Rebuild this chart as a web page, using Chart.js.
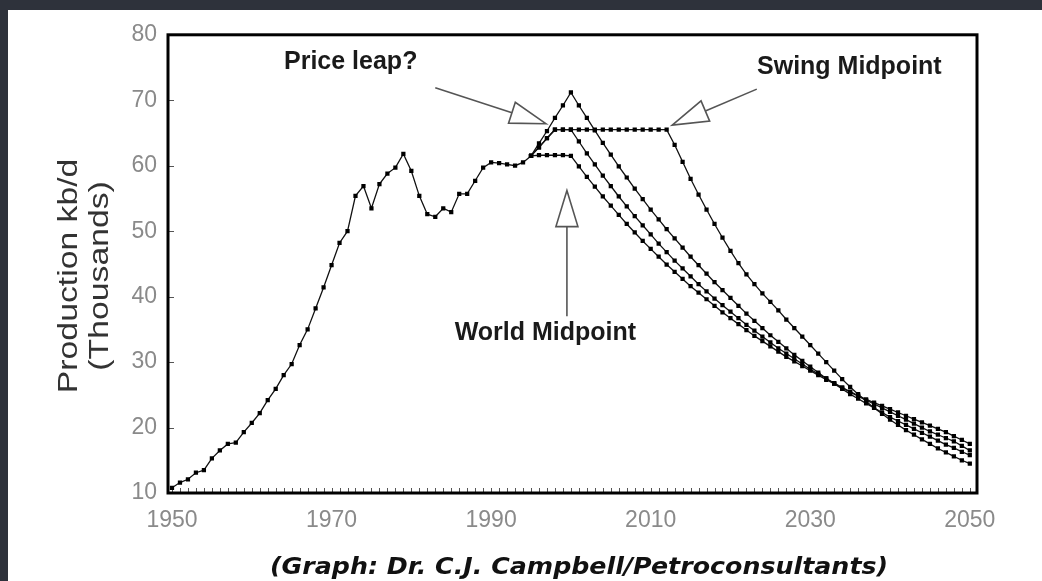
<!DOCTYPE html>
<html><head><meta charset="utf-8">
<script src="https://cdn.jsdelivr.net/npm/chart.js@4/dist/chart.umd.min.js"></script>
<style>
html,body{margin:0;padding:0;width:1042px;height:581px;overflow:hidden;background:#2e323b;}
#panel{position:absolute;left:8px;top:10px;width:1034px;height:571px;background:#fff;}
#c{position:absolute;left:0;top:0;}
#caption{position:absolute;left:571px;top:543px;transform:translateX(-50%) scaleX(1.1);white-space:nowrap;font:bold italic 23px "DejaVu Sans";color:#111;}
</style></head>
<body>
<div id="panel"><canvas id="c" width="1034" height="571"></canvas><div id="caption">(Graph: Dr. C.J. Campbell/Petroconsultants)</div></div>
<script>
const historyStart = 1950;
const history = [10.8,11.6,12.1,13.1,13.5,15.3,16.5,17.5,17.7,19.3,20.7,22.2,24.2,25.9,28.0,29.7,32.6,35.0,38.2,41.4,44.8,48.2,50.0,55.4,56.9,53.5,57.2,58.8,59.7,61.8,59.2,55.4,52.6,52.2,53.5,52.9,55.7,55.7,57.7,59.7,60.5,60.4,60.2,60.0,60.5,61.5];
const scenarioStart = 1995;
const worldMidpoint = [61.5,61.6,61.6,61.6,61.6,
 61.5,59.9,58.3,56.8,55.3,53.9,52.5,51.1,49.8,48.5,47.3,46.1,44.9,43.8,42.7,41.6,40.6,39.6,38.6,37.6,36.7,35.8,34.9,34.0,33.2,32.4,31.6,30.8,30.1,29.4,28.7,28.0,27.3,26.7,26.1,25.5,24.9,24.3,23.8,23.3,22.8,22.3,21.8,21.3,20.8,20.3,19.8,19.3,18.7,18.1,17.5];
const earlyPlateau = [61.5,62.8,64.2,65.5,65.5,
 65.5,63.7,61.9,60.2,58.5,56.9,55.3,53.8,52.3,50.9,49.5,48.1,46.8,45.5,44.3,43.1,41.9,40.8,39.7,38.7,37.7,36.7,35.7,34.8,33.9,33.0,32.1,31.3,30.5,29.7,28.9,28.2,27.5,26.8,26.1,25.4,24.8,24.2,23.6,23.0,22.4,21.8,21.2,20.6,20.0,19.4,18.9,18.4,17.9,17.2,16.5];
const priceLeap = [61.5,63.4,65.3,67.3,69.2,
 71.2,69.2,67.3,65.4,63.5,61.7,59.9,58.2,56.5,54.9,53.3,51.8,50.3,48.9,47.5,46.1,44.8,43.5,42.2,41.0,39.8,38.6,37.4,36.3,35.2,34.1,33.1,32.1,31.1,30.2,29.3,28.4,27.5,26.7,25.9,25.1,24.4,23.7,23.0,22.3,21.6,21.0,20.4,19.8,19.2,18.6,18.0,17.4,16.9,16.3,15.8];
const swingMidpoint = [61.5,62.8,64.2,
 65.5,65.5,65.5,65.5,65.5,65.5,65.5,65.5,65.5,65.5,65.5,65.5,65.5,65.5,65.5,
 63.2,60.6,58.0,55.6,53.3,51.1,49.0,47.0,45.1,43.4,41.9,40.5,39.2,37.9,36.5,35.2,33.9,32.6,31.3,30.0,28.7,27.4,26.2,25.1,24.0,23.0,22.1,21.2,20.4,19.6,18.9,18.2,17.5,16.8,16.2,15.6,15.0,14.5];
const xTickLabels = [1950,1970,1990,2010,2030,2050];
const yTickLabels = [10,20,30,40,50,60,70,80];
const annotations = [
  {text:'Price leap?', x:1972.4, y:75.9, from:[1983.0,71.9], tip:[1996.9,66.4]},
  {text:'Swing Midpoint', x:2034.9, y:75.0, from:[2023.3,71.7], tip:[2012.7,66.2]},
  {text:'World Midpoint', x:1996.8, y:34.5, from:[1999.5,37.0], tip:[1999.5,56.2]}
];

const toXY = (start, arr) => arr.map((v,i)=>({x:start+i, y:v}));
const lineStyle = {borderColor:'#111', borderWidth:1.3, pointStyle:'rect', pointRadius:3, pointBackgroundColor:'#000', pointBorderWidth:0, fill:false, tension:0};

const framePlugin = {
  id:'frame',
  beforeDatasetsDraw(chart){
    const {ctx, chartArea:a, scales:{x,y}} = chart;
    ctx.save();
    ctx.strokeStyle = '#555'; ctx.lineWidth = 1;
    for(let yr=1950; yr<=2050; yr++){ const px = Math.round(x.getPixelForValue(yr))+0.5; ctx.beginPath(); ctx.moveTo(px,a.bottom); ctx.lineTo(px,a.bottom-5); ctx.stroke(); }
    for(const v of yTickLabels){ const py = Math.round(y.getPixelForValue(v))+0.5; ctx.beginPath(); ctx.moveTo(a.left,py); ctx.lineTo(a.left+6,py); ctx.stroke(); }
    ctx.strokeStyle = '#000'; ctx.lineWidth = 3;
    ctx.strokeRect(a.left, a.top, a.right-a.left, a.bottom-a.top);
    // y title
    ctx.fillStyle = '#333'; ctx.font = '27px "Liberation Sans", Arial, sans-serif';
    ctx.textAlign='center'; ctx.textBaseline='middle';
    const cy = (a.top+a.bottom)/2 + 12;
    ctx.translate(62, cy); ctx.rotate(-Math.PI/2); ctx.scale(1.25,1);
    ctx.fillText('Production kb/d', 0, 0);
    ctx.fillText('(Thousands)', 0, 31);
    ctx.restore();
  },
  afterDatasetsDraw(chart){
    const {ctx, scales:{x,y}} = chart;
    ctx.save();
    for(const an of annotations){
      const fx = x.getPixelForValue(an.from[0]), fy = y.getPixelForValue(an.from[1]);
      const tx = x.getPixelForValue(an.tip[0]), ty = y.getPixelForValue(an.tip[1]);
      const ang = Math.atan2(ty-fy, tx-fx);
      const hl = 36, hw = 11;
      const bx = tx - hl*Math.cos(ang), by = ty - hl*Math.sin(ang);
      ctx.strokeStyle = '#555'; ctx.lineWidth = 1.6;
      ctx.beginPath(); ctx.moveTo(fx,fy); ctx.lineTo(bx,by); ctx.stroke();
      ctx.beginPath();
      ctx.moveTo(tx,ty);
      ctx.lineTo(bx - hw*Math.sin(ang), by + hw*Math.cos(ang));
      ctx.lineTo(bx + hw*Math.sin(ang), by - hw*Math.cos(ang));
      ctx.closePath(); ctx.fillStyle='#fff'; ctx.fill(); ctx.stroke();
      ctx.fillStyle = '#1a1a1a'; ctx.font = 'bold 25px "Liberation Sans", Arial, sans-serif';
      ctx.textAlign='center'; ctx.textBaseline='middle';
      ctx.fillText(an.text, x.getPixelForValue(an.x), y.getPixelForValue(an.y));
    }
    ctx.restore();
  }
};

new Chart(document.getElementById('c'), {
  type:'line',
  data:{datasets:[
    {label:'History', data:toXY(historyStart, history), ...lineStyle},
    {label:'World Midpoint', data:toXY(scenarioStart, worldMidpoint), ...lineStyle},
    {label:'Early plateau', data:toXY(scenarioStart, earlyPlateau), ...lineStyle},
    {label:'Price leap', data:toXY(scenarioStart, priceLeap), ...lineStyle},
    {label:'Swing Midpoint', data:toXY(scenarioStart, swingMidpoint), ...lineStyle}
  ]},
  options:{
    responsive:false, animation:false, devicePixelRatio:1,
    layout:{padding:{left:0, top:21, right:65, bottom:0}},
    plugins:{legend:{display:false}, tooltip:{enabled:false}},
    scales:{
      x:{type:'linear', min:1949.5, max:2050.9,
        afterBuildTicks(s){ s.ticks = xTickLabels.map(v=>({value:v})); },
        afterFit(s){ s.height = 88; },
        grid:{display:false, drawTicks:false}, border:{display:false},
        ticks:{color:'#8a8a8a', padding:14, maxRotation:0, autoSkip:false, callback:v=>String(v), font:{family:'"Liberation Sans", Arial, sans-serif', size:23}}
      },
      y:{type:'linear', min:10, max:80,
        afterBuildTicks(s){ s.ticks = yTickLabels.map(v=>({value:v})); },
        afterFit(s){ s.width = 160; },
        grid:{display:false, drawTicks:false}, border:{display:false},
        ticks:{color:'#8a8a8a', padding:11, callback:v=>String(v), font:{family:'"Liberation Sans", Arial, sans-serif', size:23}}
      }
    }
  },
  plugins:[framePlugin]
});
</script>
</body></html>
